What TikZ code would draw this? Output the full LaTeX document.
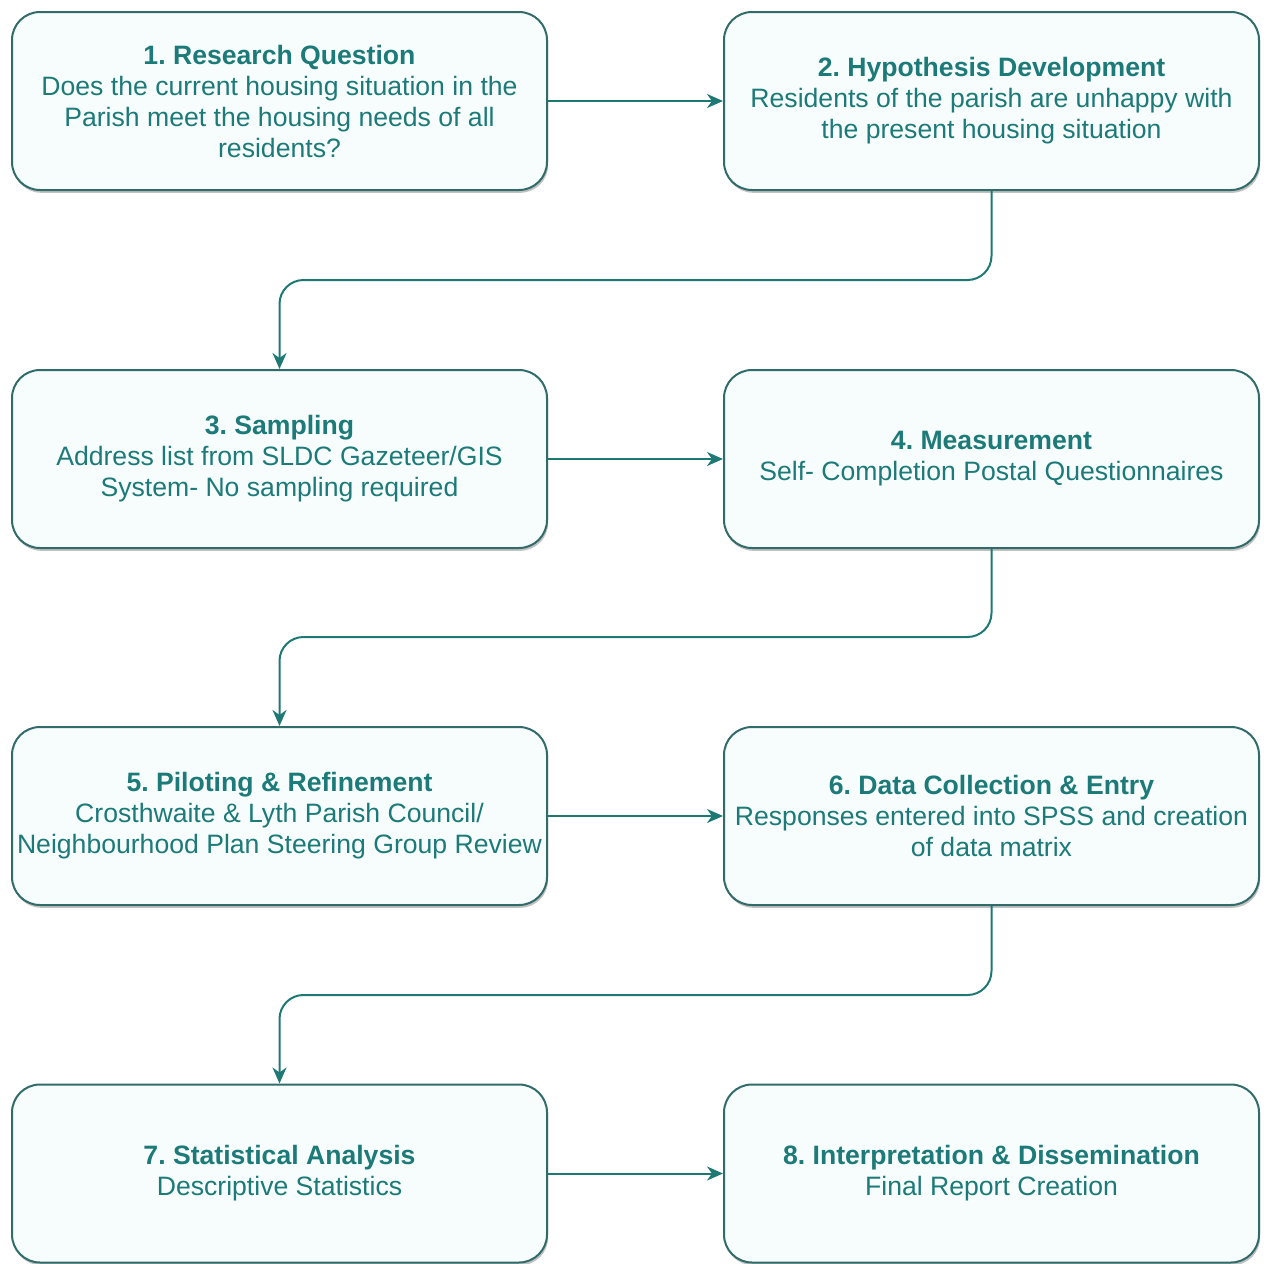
\documentclass[tikz,border=0pt]{standalone}
\usepackage{fontspec}
\setmainfont{Liberation Sans}
\usetikzlibrary{arrows.meta,shadows}
\frenchspacing

\definecolor{tealtext}{RGB}{28,122,120}
\definecolor{tealline}{RGB}{50,108,106}
\definecolor{tealarrow}{RGB}{30,120,116}
\definecolor{boxfill}{RGB}{247,253,253}

\begin{document}
\begin{tikzpicture}[x=0.5pt, y=-0.5pt,
    stage/.style={draw=tealline, line width=1pt, fill=boxfill, rounded corners=14pt,
        minimum width=267.5pt, minimum height=89pt, inner xsep=1pt, align=center, text=tealtext,
        font=\fontsize{13.3}{15.5}\selectfont,
        drop shadow={shadow xshift=0.6pt, shadow yshift=-1.4pt, fill=black!35, opacity=0.7}},
    flow/.style={draw=tealarrow, line width=1pt, -{Stealth[length=8pt, width=7pt, inset=2.5pt]}},
    turn/.style={flow, rounded corners=12pt}]

        \useasboundingbox (0,0) rectangle (1266,1264);

        % left column
        \node[stage] (rq) at (279.5, 101) {\textbf{1. Research Question}\\Does the current housing situation in the\\Parish meet the housing needs of all\\residents?};
        \node[stage] (samp) at (279.5, 459) {\textbf{3. Sampling}\\Address list from SLDC Gazeteer/GIS\\System- No sampling required};
        \node[stage] (pilot) at (279.5, 816) {\textbf{5. Piloting \& Refinement}\\Crosthwaite \& Lyth Parish Council/\\Neighbourhood Plan Steering Group Review};
        \node[stage] (stat) at (279.5, 1173.5) {\textbf{7. Statistical Analysis}\\Descriptive Statistics};

        % right column
        \node[stage] (hyp) at (991.5, 101) {\textbf{2. Hypothesis Development}\\Residents of the parish are unhappy with\\the present housing situation};
        \node[stage] (meas) at (991.5, 459) {\textbf{4. Measurement}\\Self- Completion Postal Questionnaires};
        \node[stage] (coll) at (991.5, 816) {\textbf{6. Data Collection \& Entry}\\Responses entered into SPSS and creation\\of data matrix};
        \node[stage] (interp) at (991.5, 1173.5) {\textbf{8. Interpretation \& Dissemination}\\Final Report Creation};

        \coordinate (bend1) at (636, 280);
        \coordinate (bend2) at (636, 637);
        \coordinate (bend3) at (636, 995);

        \draw[flow] (rq) -- (hyp);
        \draw[flow] (samp) -- (meas);
        \draw[flow] (pilot) -- (coll);
        \draw[flow] (stat) -- (interp);

        \draw[turn] (hyp.south) |- (bend1) -| (samp.north);
        \draw[turn] (meas.south) |- (bend2) -| (pilot.north);
        \draw[turn] (coll.south) |- (bend3) -| (stat.north);

\end{tikzpicture}
\end{document}
